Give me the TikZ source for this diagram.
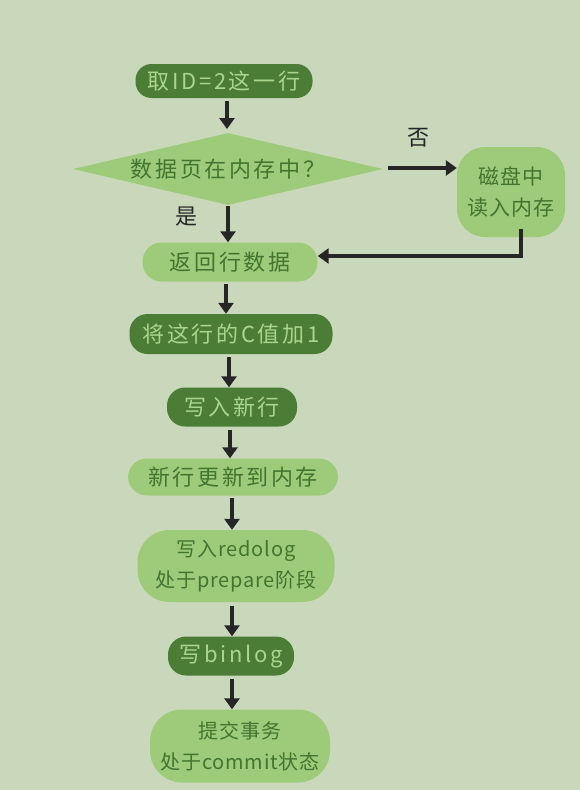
\documentclass[tikz,border=0pt]{standalone}
\usepackage{fontspec}
\newfontfamily\cjk[LetterSpace=12]{Noto Sans CJK SC}
\newfontfamily\cjkt[LetterSpace=4]{Noto Sans CJK SC}
\usetikzlibrary{shapes.geometric,arrows.meta}
\definecolor{bg}{HTML}{C9D8BA}
\definecolor{darkg}{HTML}{4C7D37}
\definecolor{lightg}{HTML}{9ECB7A}
\definecolor{darktxt}{HTML}{437530}
\definecolor{lighttxt}{HTML}{A9D58C}
\tikzset{
  dk/.style={fill=darkg, text=lighttxt, rounded corners=18pt, inner sep=0pt, font=\cjk\fontsize{22}{26}\selectfont},
  lt/.style={fill=lightg, text=darktxt, rounded corners=19pt, inner sep=0pt, align=center, font=\cjk\fontsize{22}{31}\selectfont},
  lttwo/.style={lt, rounded corners=32pt, font=\cjkt\fontsize{20}{31}\selectfont},
  arr/.style={line width=3.6pt, draw=black!85, -{Triangle[width=15pt,length=11pt]}},
  lab/.style={text=black!85, font=\cjk\fontsize{22}{26}\selectfont}
}
\begin{document}
\begin{tikzpicture}[x=1pt,y=-1pt]
\fill[bg] (0,0) rectangle (580,790);
\useasboundingbox (0,0) rectangle (580,790);
\node[dk, minimum width=177pt, minimum height=34pt, rounded corners=16pt] (n1) at (224,81) {取ID=2这一行};
\node[diamond, aspect=4.3, fill=lightg, text=darktxt, inner sep=0pt, minimum width=310pt, minimum height=72pt, font=\cjk\fontsize{22}{27}\selectfont] (d) at (228,169) {数据页在内存中？};
\node[lttwo, minimum width=108pt, minimum height=90pt, rounded corners=28pt, font=\cjkt\fontsize{21}{31}\selectfont] (disk) at (511,192) {磁盘中\\读入内存};
\node[lt, minimum width=175pt, minimum height=39pt] (ret) at (230,262) {返回行数据};
\node[dk, minimum width=203pt, minimum height=40pt] (add) at (231,334) {将这行的C值加1};
\node[dk, minimum width=130pt, minimum height=39pt] (wr) at (232,407) {写入新行};
\node[lt, minimum width=210pt, minimum height=37pt] (mem) at (233,477) {新行更新到内存};
\node[lttwo, minimum width=197pt, minimum height=72pt] (redo) at (236,566) {写入redolog\\处于prepare阶段};
\node[dk, minimum width=126pt, minimum height=39pt] (bin) at (231,656) {写binlog};
\node[lttwo, minimum width=180pt, minimum height=73pt] (cm) at (240,746) {提交事务\\处于commit状态};
\node[lab] (no) at (418,138) {否};
\node[lab] (yes) at (186,217) {是};
\coordinate (c1) at (521,229);
\coordinate (c2) at (521,256);
\draw[arr] (n1.south -| 227,0) ++(0,3) -- (227,129);
\draw[arr] (388,168) -- (disk.west |- 0,168);
\draw[arr] (228,206) -- (ret.north -| 228,0);
\draw[arr] (c1) -- (c2) -- (ret.east |- 0,256);
\draw[arr] (226,284) -- (add.north -| 226,0);
\draw[arr] (229,357) -- (wr.north -| 229,0);
\draw[arr] (230,430) -- (mem.north -| 230,0);
\draw[arr] (232,498) -- (redo.north -| 232,0);
\draw[arr] (232,606) -- (bin.north -| 232,0);
\draw[arr] (232,679) -- (cm.north -| 232,0);
\end{tikzpicture}
\end{document}
